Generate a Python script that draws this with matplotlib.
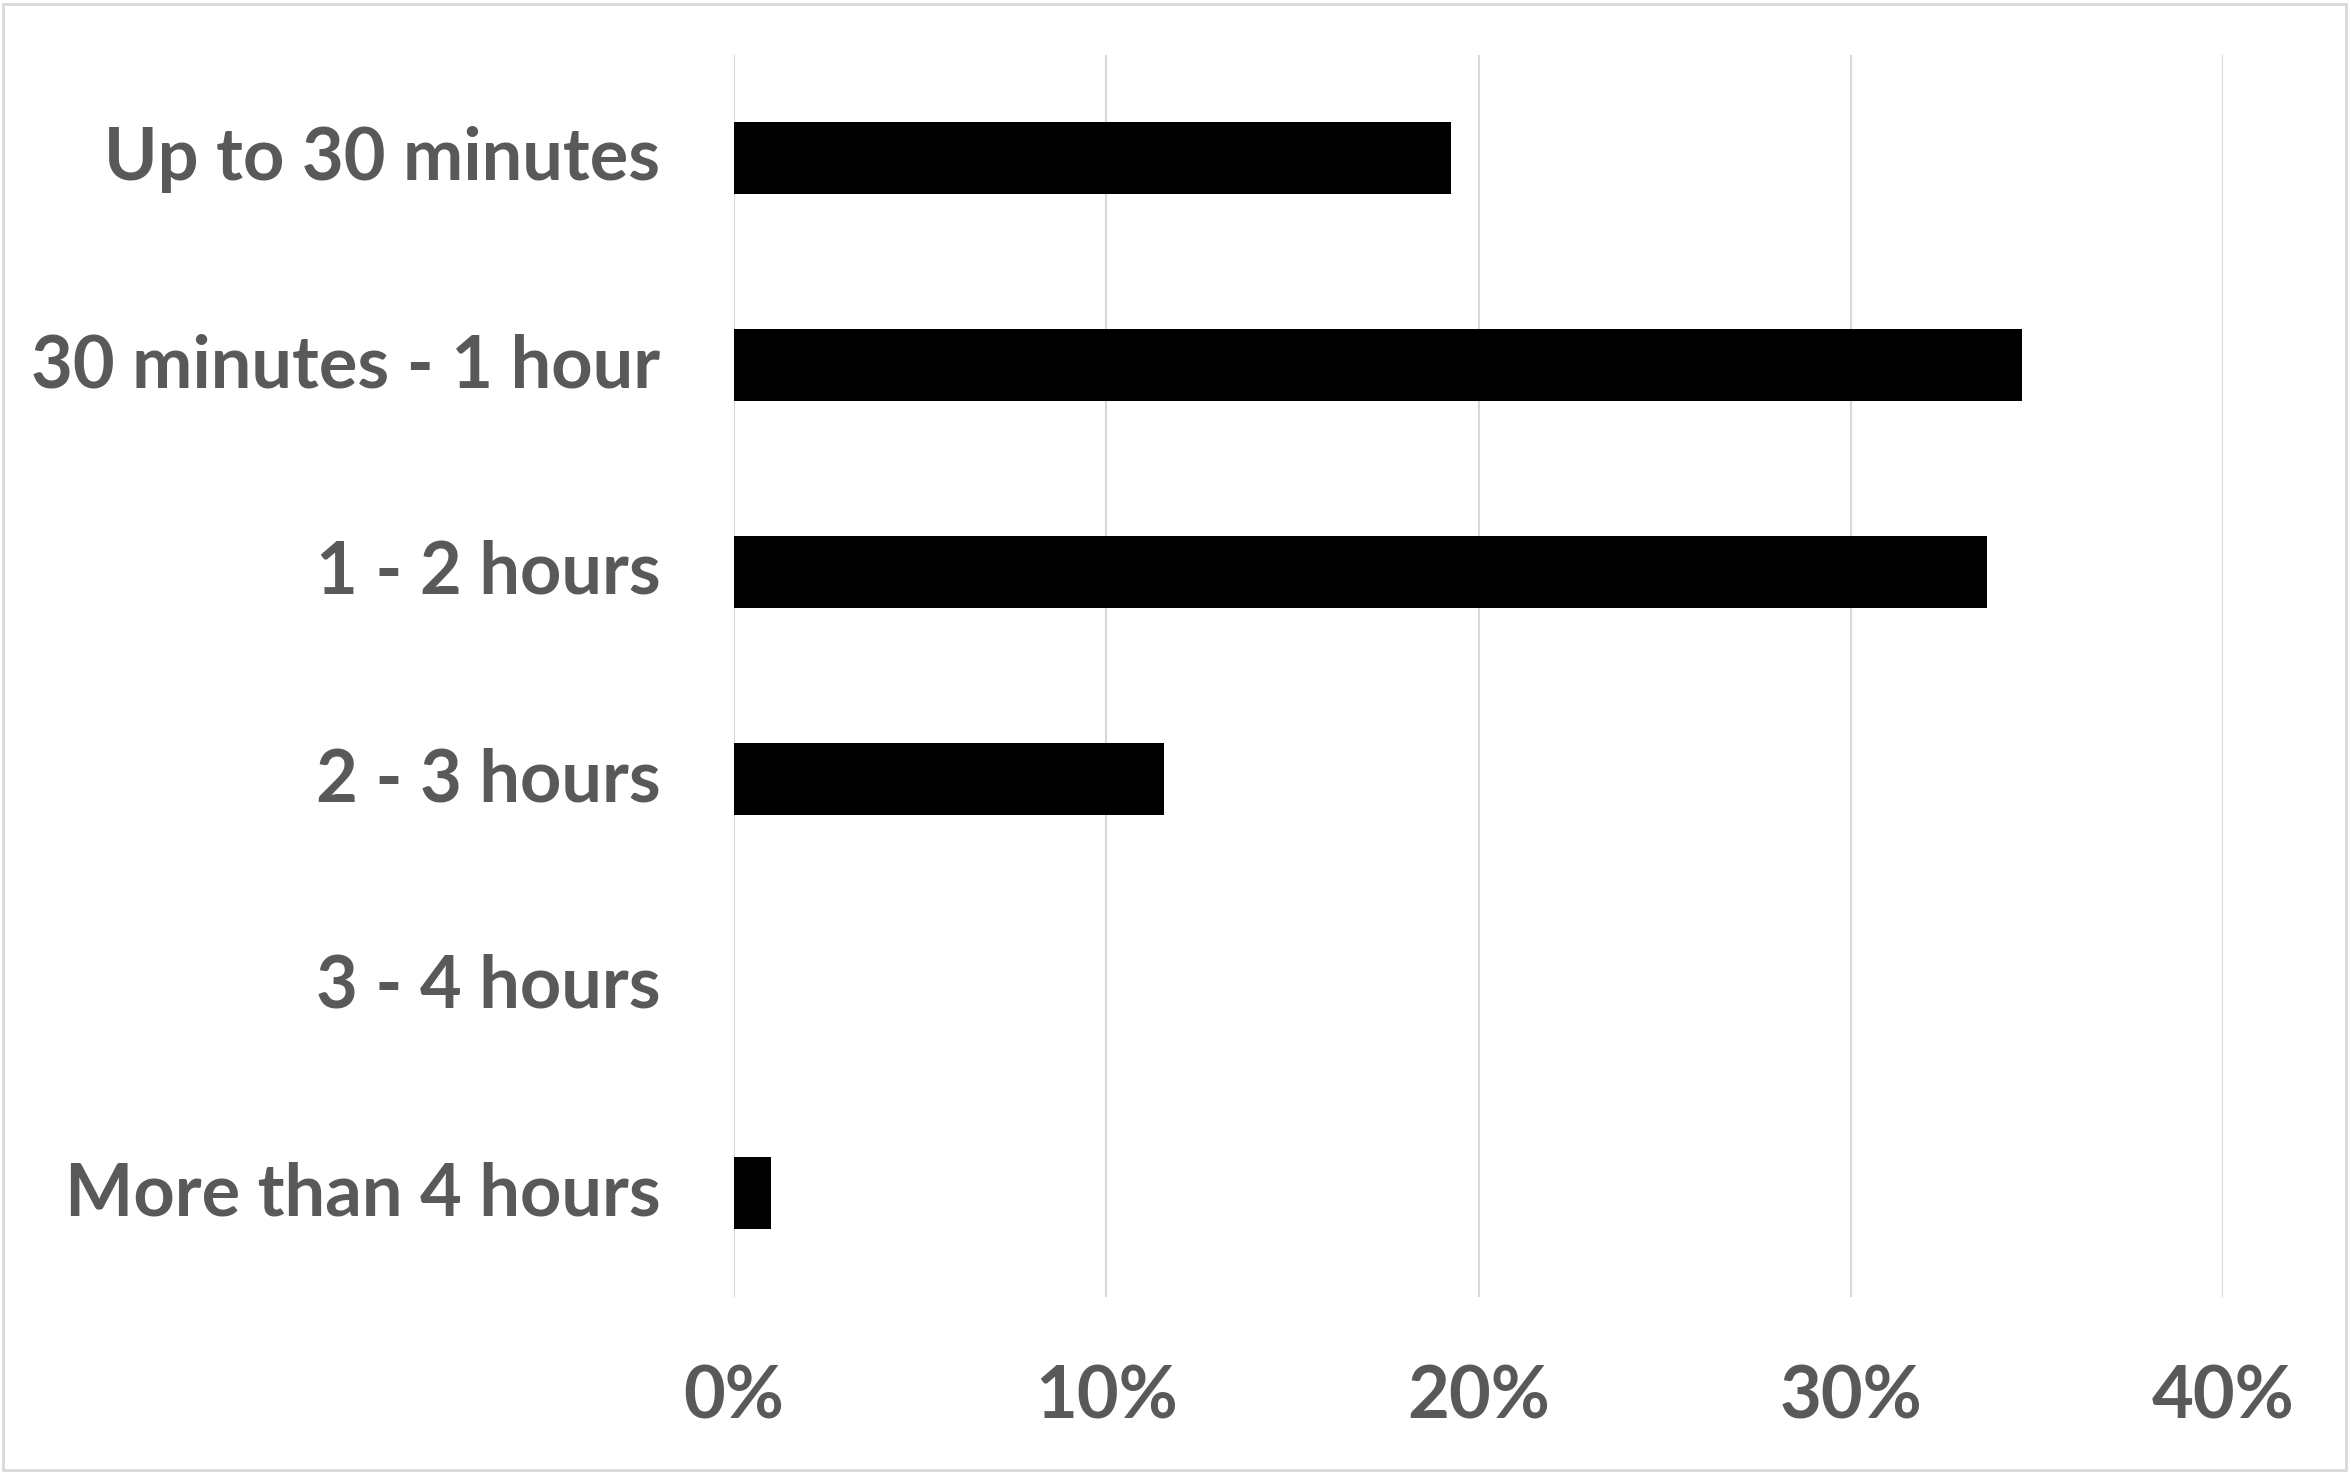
import matplotlib
matplotlib.use("Agg")
import matplotlib.pyplot as plt
from matplotlib.patches import Rectangle
from matplotlib.transforms import ScaledTranslation

categories = ["Up to 30 minutes", "30 minutes - 1 hour", "1 - 2 hours",
              "2 - 3 hours", "3 - 4 hours", "More than 4 hours"]
values = [19.25, 34.6, 33.65, 11.55, 0.0, 1.0]
xticks = [0, 10, 20, 30, 40]
xtick_labels = ["0%", "10%", "20%", "30%", "40%"]

W, H = 2351, 1480
fig = plt.figure(figsize=(W / 100, H / 100), dpi=100)
ax = fig.add_axes([734 / W, 1 - 1296.5 / H, (2223 - 734) / W, (1296.5 - 54.5) / H])

y = list(range(len(categories)))
ax.barh(y, values, height=0.35, color="black", zorder=3)
ax.set_ylim(len(categories) - 0.5, -0.5)
ax.set_xlim(0, 40)
ax.set_xticks(xticks)
ax.set_xticklabels(xtick_labels)
ax.set_yticks(y)
ax.set_yticklabels(categories)
for lab in ax.get_xticklabels() + ax.get_yticklabels():
    lab.set_fontfamily("Lato")
    lab.set_fontweight("bold")
    lab.set_fontsize(52)
    lab.set_color("#595959")
ax.tick_params(axis="both", length=0)
ax.tick_params(axis="x", pad=49)
ax.tick_params(axis="y", pad=53)
shift = ScaledTranslation(0, 5 / 100, fig.dpi_scale_trans)
for lab in ax.get_yticklabels():
    lab.set_transform(lab.get_transform() + shift)
ax.grid(axis="x", color="#d9d9d9", linewidth=1.5, zorder=0)
for s in ax.spines.values():
    s.set_visible(False)

fig.patches.append(Rectangle((3 / W, 1 - 1470 / H), (2346 - 3) / W, (1470 - 4) / H,
                             transform=fig.transFigure, fill=False,
                             edgecolor="#d9d9d9", linewidth=2))
fig.savefig("out.png", dpi=100, facecolor="white")
